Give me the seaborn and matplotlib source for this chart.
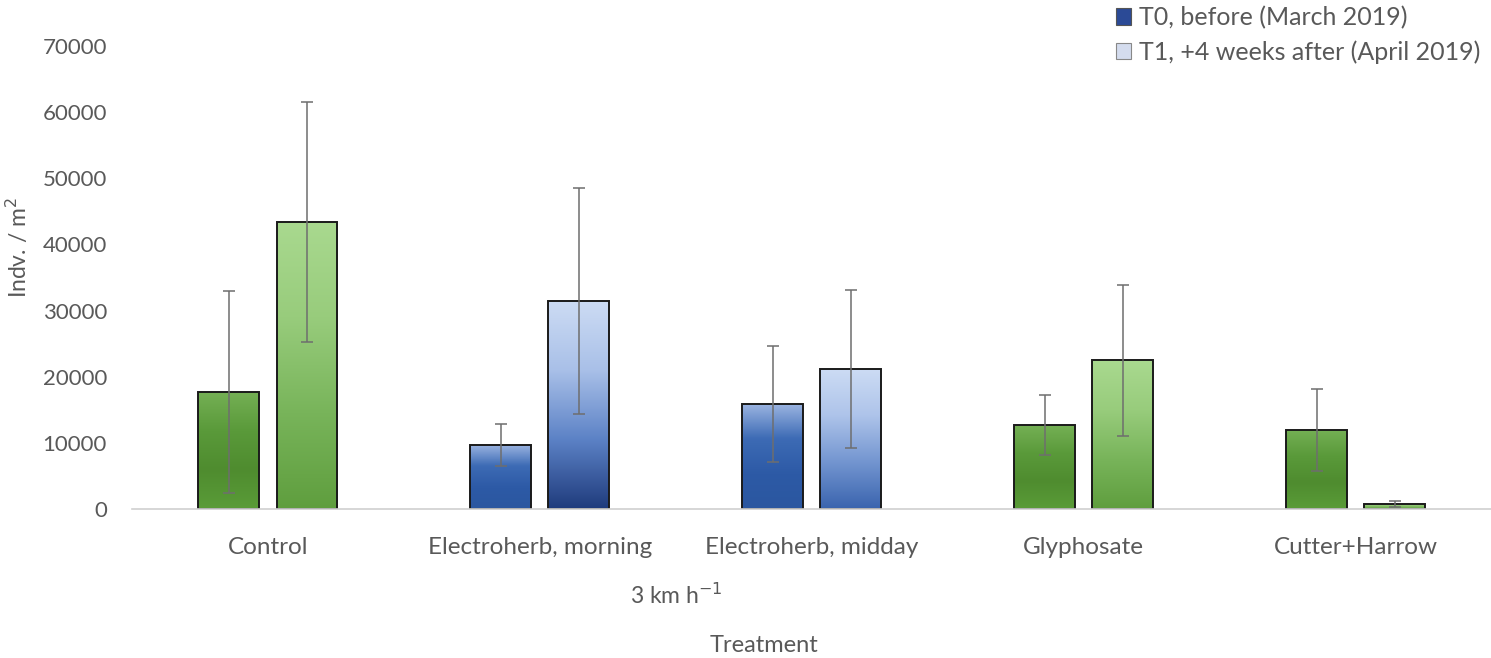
import numpy as np
import pandas as pd
import matplotlib
matplotlib.use("Agg")
import matplotlib.pyplot as plt
import seaborn as sns
from matplotlib.colors import LinearSegmentedColormap
from matplotlib.patches import Patch

sns.set_theme(style="white")
plt.rcParams['font.family'] = ['Lato', 'DejaVu Sans']

# data
treatments = ['Control', 'Electroherb, morning', 'Electroherb, midday', 'Glyphosate', 'Cutter+Harrow']
times = ['T0, before (March 2019)', 'T1, +4 weeks after (April 2019)']
t0_mean = [17700, 9700, 15900, 12700, 12000]
t1_mean = [43400, 31500, 21200, 22500, 760]
t0_err = [15300, 3200, 8800, 4500, 6200]
t1_err = [18200, 17100, 11900, 11400, 400]

df = pd.DataFrame({
    'Treatment': treatments * 2,
    'Time': [times[0]] * 5 + [times[1]] * 5,
    'Value': t0_mean + t1_mean,
})

# gradient colours per bar (top -> bottom)
g0 = ['#75b055', '#5a9a3a', '#4f8c2f', '#5a9c38']
g1 = ['#a9d98f', '#98cc7c', '#78b45a', '#5f9e3e']
b0 = ['#9db6e2', '#3d6bb5', '#2d5aa6', '#2b57a0']
grad_t0 = [g0, b0, b0, g0, g0]
grad_t1 = [g1, ['#cddcf4', '#a9c0e8', '#5c82c6', '#1f3b7c'],
           ['#cddcf4', '#aec4ea', '#7395d0', '#3a64ae'], g1, g1]

fig = plt.figure(figsize=(14.91, 6.58), dpi=100)
ax = fig.add_axes([0.0885, 0.2264, 0.912, 0.7036])

sns.barplot(data=df, x='Treatment', y='Value', hue='Time', hue_order=times,
            order=treatments, width=0.574, gap=0.22, errorbar=None,
            palette=['#2b4a96', '#d4dcee'], edgecolor='#1a1a1a', linewidth=1.4,
            legend=False, ax=ax)

errs = [t0_err, t1_err]
grads = [grad_t0, grad_t1]
bar_sets = [list(c.patches) for c in ax.containers]
for k, patches in enumerate(bar_sets):
    for i, patch in enumerate(patches):
        x0 = patch.get_x()
        w = patch.get_width()
        h = patch.get_height()
        cmap = LinearSegmentedColormap.from_list('g', grads[k][i][::-1])
        img = np.linspace(0, 1, 256).reshape(-1, 1)
        im = ax.imshow(img, cmap=cmap, extent=[x0, x0 + w, 0, h], origin='lower',
                       aspect='auto', zorder=patch.get_zorder() - 0.1, interpolation='bicubic')
        im.set_clip_path(patch)
        patch.set_facecolor('none')
        ax.errorbar(x0 + w / 2, h, yerr=errs[k][i], fmt='none', ecolor='#6e6e6e',
                    elinewidth=1.1, capsize=4, capthick=1.1, zorder=5)

ax.set_xlim(-0.5, 4.5)
ax.set_ylim(0, 70000)
ax.set_yticks(np.arange(0, 70001, 10000))
ax.tick_params(axis='both', length=0, labelcolor='#595959')
ax.tick_params(axis='x', pad=20, labelsize=17.5)
ax.tick_params(axis='y', pad=18, labelsize=16)
for s in ['top', 'right', 'left']:
    ax.spines[s].set_visible(False)
ax.spines['bottom'].set_color('#d0d0d0')
ax.spines['bottom'].set_linewidth(1.2)
ax.set_xlabel('')
ax.set_ylabel('Indv. / m$^2$', fontsize=16.5, color='#595959')
ax.yaxis.set_label_coords(-0.074, 0.565)

fig.text(676 / 1491, 1 - 595 / 658, '3 km h$^{-1}$', ha='center', va='center',
         fontsize=16.5, color='#595959')
fig.text(764 / 1491, 1 - 645 / 658, 'Treatment', ha='center', va='center',
         fontsize=17, color='#595959')

handles = [Patch(facecolor='#2b4a96', edgecolor='#555555', linewidth=0.8),
           Patch(facecolor='#d4dcee', edgecolor='#888888', linewidth=0.8)]
fig.legend(handles, times, loc='upper right', bbox_to_anchor=(1480 / 1491, 1 - 6 / 658),
           frameon=False, fontsize=18, handlelength=0.62, handleheight=0.62,
           handletextpad=0.3, labelspacing=0.45, labelcolor='#595959',
           borderpad=0, borderaxespad=0)

fig.savefig('out.png', dpi=100)
